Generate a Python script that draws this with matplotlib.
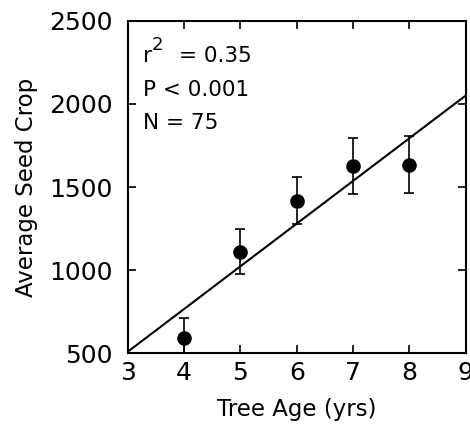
import matplotlib
matplotlib.use("Agg")
import matplotlib.pyplot as plt
import numpy as np

# mean seed crop by tree age, with error bars
ages = [4, 5, 6, 7, 8]
seed_crop = [592, 1110, 1418, 1625, 1635]
seed_err = [120, 135, 140, 170, 170]

# fitted regression line
fit_slope = 257.0
fit_intercept = -262.0
fit_x = [3, 9]

stats_lines = ["r", "P < 0.001", "N = 75"]

plt.rcParams['font.family'] = ['DejaVu Sans']

fig = plt.figure(figsize=(4.7, 4.26), dpi=100)
ax = fig.add_axes([0.272, 0.171, 0.719, 0.780])

fit_y = [fit_slope * x + fit_intercept for x in fit_x]
ax.plot(fit_x, fit_y, color='black', linewidth=1.5)

ax.errorbar(ages, seed_crop, yerr=seed_err, fmt='o', color='black',
            markersize=9.5, elinewidth=1.2, capsize=3.5, capthick=1.2)

ax.set_xlim(3, 9)
ax.set_ylim(500, 2500)
ax.set_xticks(range(3, 10))
ax.set_yticks([500, 1000, 1500, 2000, 2500])

ax.tick_params(direction='in', top=True, right=True, length=6, width=1.2,
               labelsize=18)
ax.tick_params(axis='y', pad=11)
ax.tick_params(axis='x', pad=6)
for sp in ax.spines.values():
    sp.set_linewidth(1.5)

ax.set_xlabel('Tree Age (yrs)', fontsize=16.5, labelpad=9)
ax.set_ylabel('Average Seed Crop', fontsize=16.5, labelpad=8)

# stats block
ax.text(0.045, 0.875, "r", transform=ax.transAxes, fontsize=15.5,
        va='baseline', ha='left')
ax.text(0.070, 0.913, "2", transform=ax.transAxes, fontsize=13,
        va='baseline', ha='left')
ax.text(0.150, 0.875, "= 0.35", transform=ax.transAxes, fontsize=15.5,
        va='baseline', ha='left')
for i, s in enumerate(stats_lines[1:], start=1):
    ax.text(0.045, 0.875 - i * 0.1, s, transform=ax.transAxes, fontsize=15.5,
            va='baseline', ha='left')

fig.savefig('out.png', dpi=100)
